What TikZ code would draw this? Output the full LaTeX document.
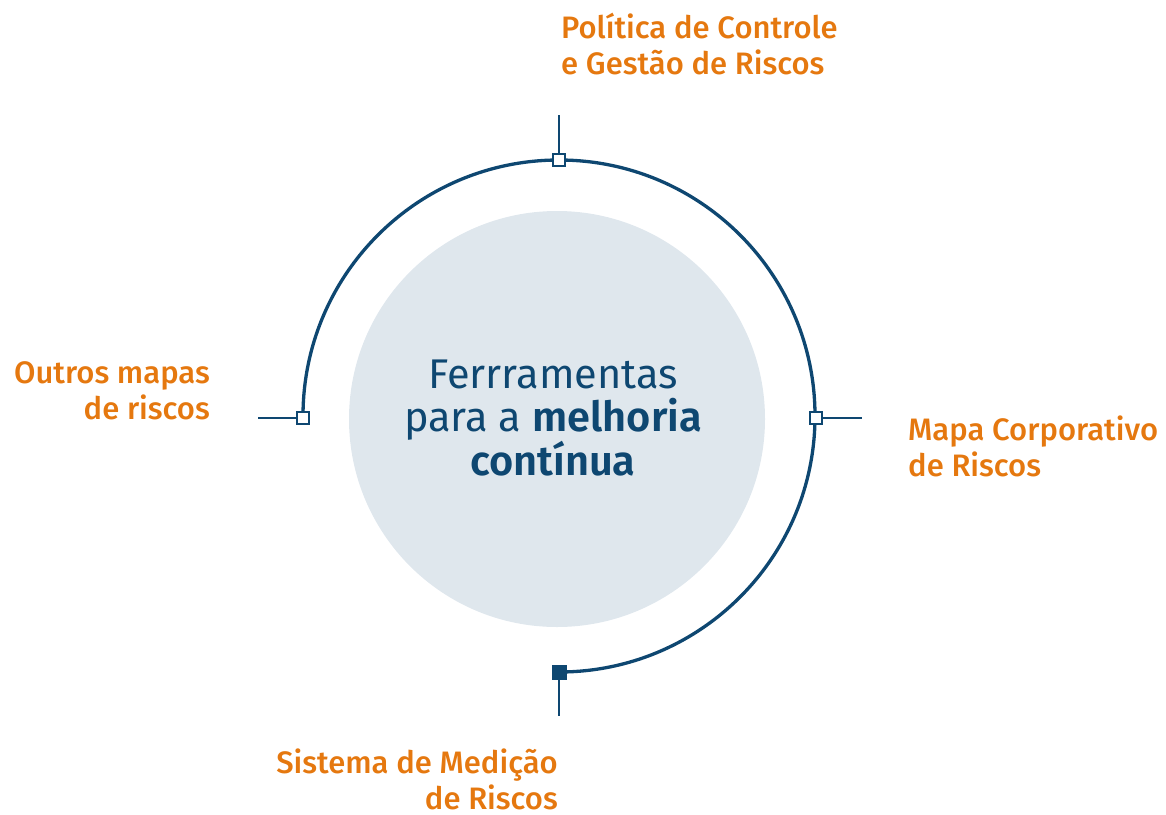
\documentclass[tikz,border=0pt]{standalone}
\usepackage{fontspec}
\setmainfont{Fira Sans}
\newfontfamily\labfont{Fira Sans Medium}
\newfontfamily\ctrbold{Fira Sans SemiBold}
\definecolor{orng}{HTML}{E5780F}
\definecolor{navy}{HTML}{0E4771}
\definecolor{pale}{HTML}{DFE7ED}
\begin{document}
\begin{tikzpicture}[x=1pt,y=-1pt,
  lab/.style={text=orng,font=\labfont\fontsize{31}{36}\selectfont,inner sep=0pt},
  ring/.style={draw=navy,line width=3.3pt},
  tick/.style={draw=navy,line width=2.2pt},
  sq/.style={draw=navy,line width=2.2pt,fill=white,minimum size=12pt,inner sep=0pt},
  sqf/.style={draw=navy,line width=1pt,fill=navy,minimum size=14pt,inner sep=0pt}]
\useasboundingbox (0,0) rectangle (1166,814);
\node[circle,fill=pale,minimum size=416pt,inner sep=0pt] (core) at (557,419) {};
\node[text=navy,align=center,font=\fontsize{41.5}{42.5}\selectfont,inner sep=0pt] (ctext) at (553,418)
  {Ferrramentas\\para a {\ctrbold melhoria}\\{\ctrbold contínua}};
\draw[ring] (303,416) arc[start angle=180,end angle=450,x radius=256,y radius=256];
\coordinate (tt) at (559,115);
\coordinate (rt) at (862,418);
\coordinate (lt) at (258,418);
\coordinate (bt) at (559,716);
\node[sq] (top) at (559,160) {};
\node[sq] (right) at (816,418) {};
\node[sq] (left) at (303,418) {};
\node[sqf] (bot) at (559,672) {};
\draw[tick] (top) -- (tt);
\draw[tick] (right) -- (rt);
\draw[tick] (left) -- (lt);
\draw[tick] (bot) -- (bt);
\node[lab,anchor=north west,align=left] (ltop) at (561,13) {Política de Controle\\e Gestão de Riscos};
\node[lab,anchor=north east,align=right] (lleft) at (210,361) {Outros mapas\\de riscos};
\node[lab,anchor=north west,align=left] (lright) at (908,416) {Mapa Corporativo\\de Riscos};
\node[lab,anchor=north east,align=right] (lbot) at (558,749) {Sistema de Medição\\de Riscos};
\end{tikzpicture}
\end{document}
